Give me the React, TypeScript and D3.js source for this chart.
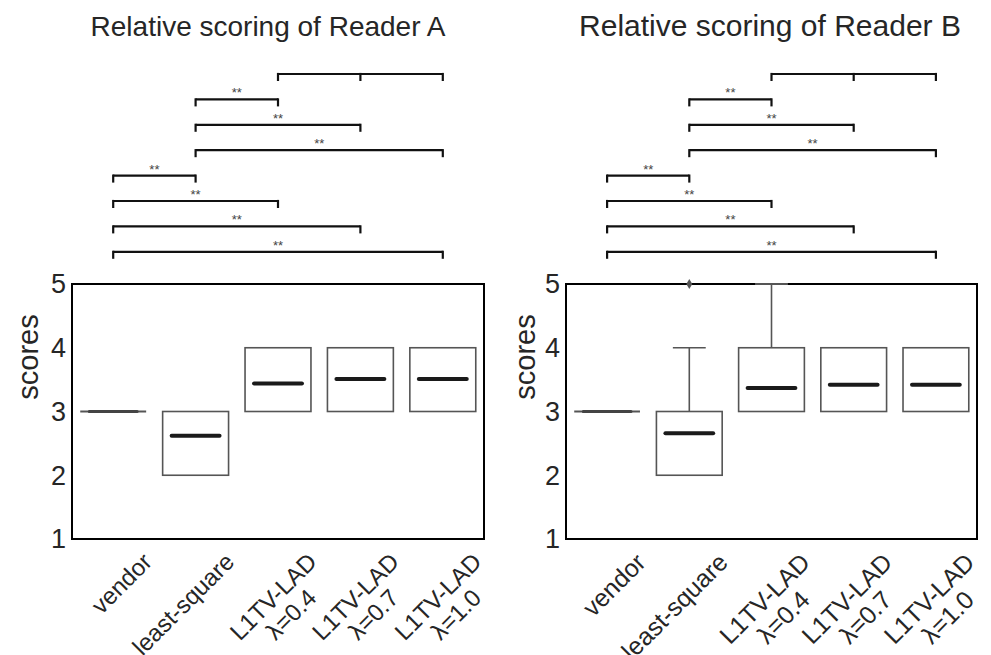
import React, { useEffect, useRef } from "react";
import * as d3 from "d3";

const W = 991;
const H = 655;
const FONT = "'Liberation Sans', Arial, Helvetica, sans-serif";

// categories (x axis)
const categories = [
  "vendor",
  "least-square",
  "L1TV-LAD\nλ=0.4",
  "L1TV-LAD\nλ=0.7",
  "L1TV-LAD\nλ=1.0",
];
const yTicks = [1, 2, 3, 4, 5];

// Reader A box stats
const readerAQ1 = [3, 2, 3, 3, 3];
const readerAQ3 = [3, 3, 4, 4, 4];
const readerALow = [3, 2, 3, 3, 3];
const readerAHigh = [3, 3, 4, 4, 4];
const readerAMid = [3, 2.62, 3.44, 3.51, 3.51];
const readerAOutliers: number[][] = [[], [], [], [], []];

// Reader B box stats
const readerBQ1 = [3, 2, 3, 3, 3];
const readerBQ3 = [3, 3, 4, 4, 4];
const readerBLow = [3, 2, 3, 3, 3];
const readerBHigh = [3, 4, 5, 4, 4];
const readerBMid = [3, 2.66, 3.37, 3.42, 3.42];
const readerBOutliers: number[][] = [[], [5], [], [], []];

// significance brackets, top row first
const sigGroups = [
  [2, 3, 4],
  [1, 2],
  [1, 3],
  [1, 4],
  [0, 1],
  [0, 2],
  [0, 3],
  [0, 4],
];
const sigLabels = ["", "**", "**", "**", "**", "**", "**", "**"];

const panels = [
  {
    title: "Relative scoring of Reader A",
    left: 72,
    right: 484,
    titleX: 268,
    titleSize: 28,
    labelSize: 24,
    ylabX: 28,
    q1: readerAQ1,
    q3: readerAQ3,
    lo: readerALow,
    hi: readerAHigh,
    mid: readerAMid,
    out: readerAOutliers,
  },
  {
    title: "Relative scoring of Reader B",
    left: 566,
    right: 977,
    titleX: 770,
    titleSize: 30,
    labelSize: 25,
    ylabX: 525,
    q1: readerBQ1,
    q3: readerBQ3,
    lo: readerBLow,
    hi: readerBHigh,
    mid: readerBMid,
    out: readerBOutliers,
  },
];

const PLOT_TOP = 284;
const PLOT_BOTTOM = 539;
const ROW_TOP = 74;
const ROW_STEP = 25.4;
const BOX_COLOR = "#555";

export default function App() {
  const svgRef = useRef<SVGSVGElement | null>(null);

  useEffect(() => {
    document.body.style.margin = "0";
    const svg = d3.select(svgRef.current);
    svg.selectAll("*").remove();
    svg.attr("width", W).attr("height", H).style("background", "#fff");

    const y = d3.scaleLinear().domain([1, 5]).range([PLOT_BOTTOM, PLOT_TOP]);

    panels.forEach((p) => {
      const g = svg.append("g").attr("font-family", FONT);
      const x = d3
        .scaleBand<number>()
        .domain(categories.map((_, i) => i))
        .range([p.left, p.right])
        .paddingInner(0)
        .paddingOuter(0);
      const bw = x.bandwidth() * 0.8;
      const cx = (i: number) => (x(i) as number) + x.bandwidth() / 2;

      // title
      g.append("text")
        .attr("x", p.titleX)
        .attr("y", 36)
        .attr("text-anchor", "middle")
        .attr("font-size", p.titleSize)
        .attr("fill", "#262626")
        .text(p.title);

      // y label
      g.append("text")
        .attr("transform", `translate(${p.ylabX},357) rotate(-90)`)
        .attr("text-anchor", "middle")
        .attr("dominant-baseline", "central")
        .attr("font-size", 29)
        .attr("fill", "#262626")
        .text("scores");

      // y tick labels
      g.selectAll("text.ytick")
        .data(yTicks)
        .join("text")
        .attr("class", "ytick")
        .attr("x", p.left - 6)
        .attr("y", (d) => y(d))
        .attr("dy", "0.35em")
        .attr("text-anchor", "end")
        .attr("font-size", 27)
        .attr("fill", "#262626")
        .text((d) => d);

      // boxes
      const idx = categories.map((_, i) => i);
      const bg = g.append("g");
      idx.forEach((i) => {
        const c = cx(i);
        const x0 = c - bw / 2;
        // whiskers
        if (p.hi[i] > p.q3[i]) {
          bg.append("line")
            .attr("x1", c).attr("x2", c)
            .attr("y1", y(p.q3[i])).attr("y2", y(p.hi[i]))
            .attr("stroke", BOX_COLOR).attr("stroke-width", 1.6);
          bg.append("line")
            .attr("x1", c - bw / 4).attr("x2", c + bw / 4)
            .attr("y1", y(p.hi[i])).attr("y2", y(p.hi[i]))
            .attr("stroke", BOX_COLOR).attr("stroke-width", 1.6);
        }
        if (p.lo[i] < p.q1[i]) {
          bg.append("line")
            .attr("x1", c).attr("x2", c)
            .attr("y1", y(p.q1[i])).attr("y2", y(p.lo[i]))
            .attr("stroke", BOX_COLOR).attr("stroke-width", 1.6);
          bg.append("line")
            .attr("x1", c - bw / 4).attr("x2", c + bw / 4)
            .attr("y1", y(p.lo[i])).attr("y2", y(p.lo[i]))
            .attr("stroke", BOX_COLOR).attr("stroke-width", 1.6);
        }
        // box (collapsed boxes drawn as a single line)
        if (p.q3[i] > p.q1[i]) {
          bg.append("rect")
            .attr("x", x0)
            .attr("y", y(p.q3[i]))
            .attr("width", bw)
            .attr("height", y(p.q1[i]) - y(p.q3[i]))
            .attr("fill", "#fff")
            .attr("stroke", BOX_COLOR)
            .attr("stroke-width", 1.6);
        } else {
          bg.append("line")
            .attr("x1", x0).attr("x2", x0 + bw)
            .attr("y1", y(p.q1[i])).attr("y2", y(p.q1[i]))
            .attr("stroke", BOX_COLOR).attr("stroke-width", 1.8);
        }
        // median
        const collapsed = p.q3[i] === p.q1[i];
        bg.append("line")
          .attr("x1", x0 + 9)
          .attr("x2", x0 + bw - 9)
          .attr("y1", y(p.mid[i]))
          .attr("y2", y(p.mid[i]))
          .attr("stroke", collapsed ? "#444" : "#1a1a1a")
          .attr("stroke-width", collapsed ? 3 : 4)
          .attr("stroke-linecap", "round");
      });

      // frame
      g.append("rect")
        .attr("x", p.left)
        .attr("y", PLOT_TOP)
        .attr("width", p.right - p.left)
        .attr("height", PLOT_BOTTOM - PLOT_TOP)
        .attr("fill", "none")
        .attr("stroke", "#000")
        .attr("stroke-width", 2);

      // caps / outliers drawn above the frame
      idx.forEach((i) => {
        const c = cx(i);
        if (p.hi[i] >= 5 && p.hi[i] > p.q3[i]) {
          g.append("line")
            .attr("x1", c - bw / 4).attr("x2", c + bw / 4)
            .attr("y1", y(p.hi[i])).attr("y2", y(p.hi[i]))
            .attr("stroke", BOX_COLOR).attr("stroke-width", 1.8);
        }
        p.out[i].forEach((v) => {
          const yy = y(v);
          g.append("path")
            .attr("d", `M${c},${yy - 5}L${c + 3},${yy}L${c},${yy + 5}L${c - 3},${yy}Z`)
            .attr("fill", BOX_COLOR);
        });
      });

      // significance brackets
      sigGroups.forEach((grp, r) => {
        const ry = ROW_TOP + r * ROW_STEP;
        const xs = grp.map(cx);
        const x1 = d3.min(xs) as number;
        const x2 = d3.max(xs) as number;
        g.append("line")
          .attr("x1", x1).attr("x2", x2)
          .attr("y1", ry).attr("y2", ry)
          .attr("stroke", "#111").attr("stroke-width", 2.2);
        xs.forEach((xx) => {
          g.append("line")
            .attr("x1", xx).attr("x2", xx)
            .attr("y1", ry - 1.1).attr("y2", ry + 7)
            .attr("stroke", "#111").attr("stroke-width", 2.2);
        });
        if (sigLabels[r]) {
          g.append("text")
            .attr("x", (x1 + x2) / 2)
            .attr("y", ry - 2)
            .attr("text-anchor", "middle")
            .attr("font-size", 13)
            .attr("fill", "#444")
            .text(sigLabels[r]);
        }
      });

      // x tick labels, rotated 45°: first line ends half a band right of the tick,
      // further lines centred under it
      idx.forEach((i) => {
        const c = cx(i);
        const fs = p.labelSize;
        const lines = categories[i].split("\n");
        const ex = c + x.bandwidth() / 2 - 1;
        const ey = PLOT_BOTTOM + 9 + 0.64 * fs;
        const lg = g
          .append("g")
          .attr("transform", `translate(${ex},${ey}) rotate(-45)`)
          .attr("font-size", fs)
          .attr("fill", "#262626");
        const first = lg.append("text").attr("text-anchor", "end").text(lines[0]);
        const l1 = (first.node() as SVGTextElement).getComputedTextLength();
        lines.slice(1).forEach((ln, k) => {
          lg.append("text")
            .attr("text-anchor", "middle")
            .attr("x", -l1 / 2)
            .attr("y", (k + 1) * 1.05 * fs)
            .text(ln);
        });
      });
    });
  }, []);

  return <svg ref={svgRef} width={W} height={H} />;
}
